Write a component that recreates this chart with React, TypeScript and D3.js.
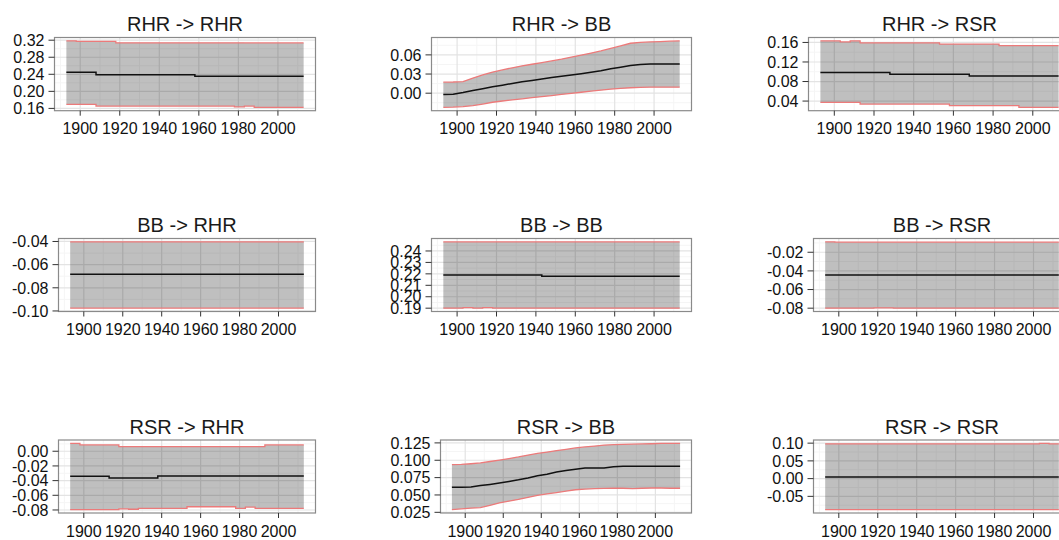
import * as d3 from "d3";
import React from "react";

const years = [1893, 1898, 1903, 1908, 1913, 1918, 1923, 1928, 1933, 1938, 1943, 1948, 1953, 1958, 1963, 1968, 1973, 1978, 1983, 1988, 1993, 1998, 2003, 2008, 2013];

const titles = ["RHR -> RHR", "RHR -> BB", "RHR -> RSR", "BB -> RHR", "BB -> BB", "BB -> RSR", "RSR -> RHR", "RSR -> BB", "RSR -> RSR"];

// RHR -> RHR
const rhrRhrMean = [0.2447, 0.2447, 0.2447, 0.239, 0.239, 0.239, 0.239, 0.239, 0.239, 0.239, 0.239, 0.239, 0.239, 0.2353, 0.2353, 0.2353, 0.2353, 0.2353, 0.2353, 0.2353, 0.2353, 0.2353, 0.2353, 0.2353, 0.2353];
const rhrRhrUpper = [0.3185, 0.317, 0.317, 0.317, 0.317, 0.3137, 0.3137, 0.3137, 0.3137, 0.3137, 0.3137, 0.3137, 0.3137, 0.3137, 0.3137, 0.3137, 0.3137, 0.3137, 0.3135, 0.3135, 0.3135, 0.3135, 0.3135, 0.3135, 0.3135];
const rhrRhrLower = [0.1694, 0.1694, 0.1694, 0.1654, 0.1654, 0.1654, 0.1654, 0.1654, 0.1654, 0.1654, 0.1654, 0.1654, 0.1654, 0.1654, 0.1654, 0.1654, 0.1654, 0.1635, 0.1654, 0.1624, 0.1624, 0.1624, 0.1624, 0.1624, 0.1624];

// RHR -> BB
const rhrBbMean = [-0.0022, -0.0015, 0.001, 0.0042, 0.007, 0.01, 0.0125, 0.0153, 0.0178, 0.02, 0.0222, 0.0245, 0.0265, 0.0285, 0.0305, 0.0328, 0.0352, 0.0383, 0.0408, 0.0432, 0.0448, 0.0456, 0.0458, 0.0458, 0.0458];
const rhrBbUpper = [0.0173, 0.0175, 0.0182, 0.0237, 0.0285, 0.033, 0.0365, 0.0398, 0.0428, 0.0453, 0.0478, 0.0505, 0.0533, 0.0566, 0.0597, 0.0628, 0.0662, 0.07, 0.074, 0.0782, 0.0797, 0.0803, 0.0808, 0.0815, 0.082];
const rhrBbLower = [-0.0222, -0.0218, -0.021, -0.0195, -0.017, -0.0142, -0.0122, -0.0105, -0.0088, -0.007, -0.0055, -0.0038, -0.002, -0.0002, 0.0015, 0.0032, 0.0048, 0.0063, 0.0075, 0.0085, 0.0092, 0.0094, 0.0094, 0.0094, 0.0094];

// RHR -> RSR
const rhrRsrMean = [0.0987, 0.0987, 0.0987, 0.0987, 0.0987, 0.0987, 0.0987, 0.0947, 0.0947, 0.0947, 0.0947, 0.0947, 0.0947, 0.0947, 0.0947, 0.0914, 0.0914, 0.0914, 0.0914, 0.0914, 0.0914, 0.0914, 0.0914, 0.0914, 0.0914];
const rhrRsrUpper = [0.1633, 0.1633, 0.161, 0.1633, 0.1593, 0.1593, 0.1593, 0.1593, 0.1593, 0.1593, 0.1593, 0.1593, 0.1566, 0.1566, 0.1566, 0.1566, 0.1566, 0.1566, 0.1533, 0.1533, 0.1533, 0.1533, 0.1533, 0.1533, 0.1533];
const rhrRsrLower = [0.0372, 0.0372, 0.0372, 0.0372, 0.0338, 0.0338, 0.0338, 0.0338, 0.0338, 0.0338, 0.0338, 0.0338, 0.0338, 0.0305, 0.0305, 0.0305, 0.0305, 0.0305, 0.0305, 0.0305, 0.0271, 0.0271, 0.0271, 0.0271, 0.0271];

// BB -> RHR
const bbRhrMean = [-0.0682, -0.0682, -0.0682, -0.0682, -0.0682, -0.0682, -0.0682, -0.0682, -0.0682, -0.0682, -0.0682, -0.0682, -0.0682, -0.0682, -0.0682, -0.0682, -0.0682, -0.0682, -0.0682, -0.0682, -0.0682, -0.0682, -0.0682, -0.0682, -0.0682];
const bbRhrUpper = [-0.0403, -0.0403, -0.0403, -0.0403, -0.0403, -0.0403, -0.0403, -0.0403, -0.0403, -0.0403, -0.0403, -0.0403, -0.0403, -0.0403, -0.0403, -0.0403, -0.0403, -0.0403, -0.0403, -0.0403, -0.0403, -0.0403, -0.0403, -0.0403, -0.0403];
const bbRhrLower = [-0.0976, -0.0976, -0.0976, -0.0976, -0.0976, -0.0976, -0.0976, -0.0976, -0.0976, -0.0976, -0.0976, -0.0976, -0.0976, -0.0976, -0.0976, -0.0976, -0.0976, -0.0976, -0.0976, -0.0976, -0.0976, -0.0976, -0.0976, -0.0976, -0.0976];

// BB -> BB
const bbBbMean = [0.219, 0.219, 0.219, 0.219, 0.219, 0.219, 0.219, 0.219, 0.219, 0.219, 0.2178, 0.2178, 0.2178, 0.2178, 0.2178, 0.2178, 0.2178, 0.2178, 0.2178, 0.2178, 0.2178, 0.2178, 0.2178, 0.2178, 0.2178];
const bbBbUpper = [0.248, 0.248, 0.248, 0.248, 0.248, 0.248, 0.248, 0.248, 0.248, 0.248, 0.248, 0.248, 0.248, 0.248, 0.248, 0.248, 0.248, 0.248, 0.248, 0.248, 0.248, 0.248, 0.248, 0.248, 0.248];
const bbBbLower = [0.19, 0.19, 0.1905, 0.19, 0.1905, 0.19, 0.19, 0.19, 0.19, 0.19, 0.19, 0.19, 0.19, 0.19, 0.19, 0.19, 0.19, 0.19, 0.19, 0.19, 0.19, 0.19, 0.19, 0.19, 0.19];

// BB -> RSR
const bbRsrMean = [-0.0443, -0.0443, -0.0443, -0.0443, -0.0443, -0.0443, -0.0443, -0.0443, -0.0443, -0.0443, -0.0443, -0.0443, -0.0443, -0.0443, -0.0443, -0.0443, -0.0443, -0.0443, -0.0443, -0.0443, -0.0443, -0.0443, -0.0443, -0.0443, -0.0443];
const bbRsrUpper = [-0.0088, -0.0092, -0.0092, -0.0092, -0.0092, -0.0092, -0.0092, -0.0092, -0.0092, -0.0092, -0.0092, -0.0092, -0.0092, -0.0092, -0.0092, -0.0092, -0.0092, -0.0092, -0.0092, -0.0092, -0.0092, -0.0092, -0.0092, -0.0092, -0.0092];
const bbRsrLower = [-0.08, -0.08, -0.08, -0.08, -0.08, -0.0797, -0.0797, -0.08, -0.08, -0.08, -0.08, -0.08, -0.08, -0.08, -0.08, -0.08, -0.08, -0.08, -0.08, -0.08, -0.08, -0.08, -0.08, -0.08, -0.08];

// RSR -> RHR
const rsrRhrMean = [-0.0342, -0.0342, -0.0342, -0.0342, -0.0365, -0.0365, -0.0365, -0.0365, -0.0365, -0.0337, -0.0337, -0.0337, -0.0337, -0.0337, -0.0337, -0.0337, -0.0337, -0.0337, -0.0337, -0.0337, -0.0337, -0.0337, -0.0337, -0.0337, -0.0337];
const rsrRhrUpper = [0.0108, 0.0086, 0.0086, 0.0086, 0.0086, 0.0063, 0.0063, 0.0063, 0.0063, 0.0063, 0.0063, 0.0063, 0.0063, 0.0063, 0.0063, 0.0063, 0.0063, 0.0063, 0.0063, 0.0063, 0.0086, 0.0086, 0.0086, 0.0086, 0.0086];
const rsrRhrLower = [-0.0796, -0.0796, -0.0796, -0.0796, -0.0796, -0.0785, -0.079, -0.0778, -0.0778, -0.0778, -0.0778, -0.0778, -0.0756, -0.0756, -0.0756, -0.0756, -0.0756, -0.0778, -0.076, -0.0778, -0.0778, -0.0778, -0.0778, -0.0778, -0.0778];

// RSR -> BB
const rsrBbMean = [0.061, 0.061, 0.0615, 0.0635, 0.0652, 0.0672, 0.0695, 0.0718, 0.0745, 0.0778, 0.08, 0.0832, 0.0852, 0.0872, 0.0889, 0.0889, 0.0889, 0.0905, 0.0913, 0.0913, 0.0913, 0.0913, 0.0913, 0.0913, 0.0913];
const rsrBbUpper = [0.0937, 0.094, 0.095, 0.0962, 0.0982, 0.1002, 0.1025, 0.1048, 0.1075, 0.1098, 0.1118, 0.114, 0.1158, 0.1178, 0.1192, 0.1205, 0.1218, 0.1225, 0.123, 0.1232, 0.1235, 0.1238, 0.1244, 0.1244, 0.1244];
const rsrBbLower = [0.0288, 0.03, 0.031, 0.0318, 0.035, 0.0385, 0.041, 0.0435, 0.0465, 0.0495, 0.0515, 0.0534, 0.0555, 0.0575, 0.0585, 0.059, 0.0595, 0.0597, 0.0597, 0.059, 0.0597, 0.06, 0.06, 0.0597, 0.0597];

// RSR -> RSR
const rsrRsrMean = [0.0047, 0.0047, 0.0047, 0.0047, 0.0047, 0.0047, 0.0047, 0.0047, 0.0047, 0.0047, 0.0047, 0.0047, 0.0047, 0.0047, 0.0047, 0.0047, 0.0047, 0.0047, 0.0047, 0.0047, 0.0047, 0.0047, 0.0047, 0.0047, 0.0047];
const rsrRsrUpper = [0.098, 0.098, 0.098, 0.098, 0.098, 0.098, 0.098, 0.098, 0.098, 0.098, 0.098, 0.098, 0.098, 0.098, 0.098, 0.098, 0.098, 0.098, 0.098, 0.098, 0.098, 0.098, 0.0995, 0.098, 0.098];
const rsrRsrLower = [-0.0876, -0.0876, -0.0876, -0.0876, -0.0876, -0.0876, -0.0876, -0.0876, -0.0876, -0.0876, -0.0876, -0.0876, -0.0876, -0.0876, -0.0876, -0.0876, -0.0876, -0.0876, -0.0876, -0.0876, -0.0876, -0.0876, -0.0876, -0.0876, -0.0876];

// y tick labels per panel
const rhrRhrTicks = ["0.16", "0.20", "0.24", "0.28", "0.32"];
const rhrBbTicks = ["0.00", "0.03", "0.06"];
const rhrRsrTicks = ["0.04", "0.08", "0.12", "0.16"];
const bbRhrTicks = ["-0.10", "-0.08", "-0.06", "-0.04"];
const bbBbTicks = ["0.19", "0.20", "0.21", "0.22", "0.23", "0.24"];
const bbRsrTicks = ["-0.08", "-0.06", "-0.04", "-0.02"];
const rsrRhrTicks = ["-0.08", "-0.06", "-0.04", "-0.02", "0.00"];
const rsrBbTicks = ["0.025", "0.050", "0.075", "0.100", "0.125"];
const rsrRsrTicks = ["-0.05", "0.00", "0.05", "0.10"];

const xTicks = [1900, 1920, 1940, 1960, 1980, 2000];

// trending panels look like smooth ramps, the flat ones have sharp steps
const panels = [
  { title: titles[0], mean: rhrRhrMean, upper: rhrRhrUpper, lower: rhrRhrLower, ticks: rhrRhrTicks, stepped: true },
  { title: titles[1], mean: rhrBbMean, upper: rhrBbUpper, lower: rhrBbLower, ticks: rhrBbTicks, stepped: false },
  { title: titles[2], mean: rhrRsrMean, upper: rhrRsrUpper, lower: rhrRsrLower, ticks: rhrRsrTicks, stepped: true },
  { title: titles[3], mean: bbRhrMean, upper: bbRhrUpper, lower: bbRhrLower, ticks: bbRhrTicks, stepped: true },
  { title: titles[4], mean: bbBbMean, upper: bbBbUpper, lower: bbBbLower, ticks: bbBbTicks, stepped: true },
  { title: titles[5], mean: bbRsrMean, upper: bbRsrUpper, lower: bbRsrLower, ticks: bbRsrTicks, stepped: true },
  { title: titles[6], mean: rsrRhrMean, upper: rsrRhrUpper, lower: rsrRhrLower, ticks: rsrRhrTicks, stepped: true },
  { title: titles[7], mean: rsrBbMean, upper: rsrBbUpper, lower: rsrBbLower, ticks: rsrBbTicks, stepped: false },
  { title: titles[8], mean: rsrRsrMean, upper: rsrRsrUpper, lower: rsrRsrLower, ticks: rsrRsrTicks, stepped: true },
];

// panel boxes (layout)
const rowTop = [37.5, 238.5, 440];
const rowBottom = [110.7, 311.5, 513];
const colRight = [315.5, 691.5, 1070.5];
const panelLeft = [54.5, 431.5, 808.5, 58.5, 431.5, 813.5, 58.5, 440.5, 813.5];

const FONT = "'Liberation Sans', Arial, sans-serif";

type PanelData = { title: string; mean: number[]; upper: number[]; lower: number[]; ticks: string[]; stepped: boolean };

const Panel = ({ p, idx }: { p: PanelData; idx: number }) => {
  const row = Math.floor(idx / 3);
  const col = idx % 3;
  const left = panelLeft[idx];
  const right = colRight[col];
  const top = rowTop[row];
  const bottom = rowBottom[row];

  const [x0, x1] = d3.extent(years) as [number, number];
  const xPad = (x1 - x0) * 0.05;
  const x = d3.scaleLinear().domain([x0 - xPad, x1 + xPad]).range([left, right]);

  const lo = d3.min(p.lower) as number;
  const hi = d3.max(p.upper) as number;
  const yPad = (hi - lo) * 0.05;
  const y = d3.scaleLinear().domain([lo - yPad, hi + yPad]).range([bottom, top]);

  const yMajor = p.ticks.map((t) => +t);
  const step = yMajor[1] - yMajor[0];
  const yMinor = [yMajor[0] - step / 2, ...yMajor.map((v) => v + step / 2)].filter(
    (v) => v >= y.domain()[0] && v <= y.domain()[1]
  );
  const xMinor = xTicks.map((v) => v - 10).concat([2010]).filter((v) => v >= x.domain()[0] && v <= x.domain()[1]);

  const curve = p.stepped ? d3.curveStepAfter : d3.curveLinear;
  const ribbon = d3
    .area<number>()
    .x((_, i) => x(years[i]))
    .y0((_, i) => y(p.lower[i]))
    .y1((d) => y(d))
    .curve(curve);
  const line = d3
    .line<number>()
    .x((_, i) => x(years[i]))
    .y((d) => y(d))
    .curve(curve);

  const clipId = `clip-${idx}`;

  return (
    <g>
      <defs>
        <clipPath id={clipId}>
          <rect x={left} y={top} width={right - left} height={bottom - top} />
        </clipPath>
      </defs>
      <rect x={left} y={top} width={right - left} height={bottom - top} fill="#ffffff" />
      <g clipPath={`url(#${clipId})`}>
        {yMinor.map((v) => (
          <line key={"ym" + v} x1={left} x2={right} y1={y(v)} y2={y(v)} stroke="#f5f5f5" strokeWidth={1} />
        ))}
        {xMinor.map((v) => (
          <line key={"xm" + v} x1={x(v)} x2={x(v)} y1={top} y2={bottom} stroke="#f5f5f5" strokeWidth={1} />
        ))}
        {yMajor.map((v) => (
          <line key={"yM" + v} x1={left} x2={right} y1={y(v)} y2={y(v)} stroke="#e3e3e3" strokeWidth={1.2} />
        ))}
        {xTicks.map((v) => (
          <line key={"xM" + v} x1={x(v)} x2={x(v)} y1={top} y2={bottom} stroke="#e3e3e3" strokeWidth={1.2} />
        ))}
        <path d={ribbon(p.upper) || ""} fill="#000000" fillOpacity={0.25} />
        <path d={line(p.upper) || ""} fill="none" stroke="#ec7a7a" strokeWidth={1.3} />
        <path d={line(p.lower) || ""} fill="none" stroke="#ec7a7a" strokeWidth={1.3} />
        <path d={line(p.mean) || ""} fill="none" stroke="#111111" strokeWidth={1.5} />
      </g>
      <rect x={left} y={top} width={right - left} height={bottom - top} fill="none" stroke="#8a8a8a" strokeWidth={1.2} />
      {yMajor.map((v, i) => (
        <g key={"yt" + i}>
          <line x1={left - 6} x2={left} y1={y(v)} y2={y(v)} stroke="#333333" strokeWidth={1} />
          <text x={left - 10} y={y(v)} dy="0.36em" textAnchor="end" fontSize={16} fill="#111111" fontFamily={FONT}>
            {p.ticks[i]}
          </text>
        </g>
      ))}
      {xTicks.map((v) => (
        <g key={"xt" + v}>
          <line x1={x(v)} x2={x(v)} y1={bottom} y2={bottom + 5} stroke="#333333" strokeWidth={1} />
          <text x={x(v)} y={bottom + 23.5} textAnchor="middle" fontSize={16} fill="#111111" fontFamily={FONT}>
            {v}
          </text>
        </g>
      ))}
      <text x={(left + right) / 2} y={top - 6.5} textAnchor="middle" fontSize={20} fill="#1a1a1a" fontFamily={FONT}>
        {p.title}
      </text>
    </g>
  );
};

const App = () => {
  return (
    <svg
      width={1059}
      height={540}
      style={{ position: "absolute", left: 0, top: 0, background: "#ffffff" }}
    >
      <rect x={0} y={0} width={1059} height={540} fill="#ffffff" />
      {panels.map((p, i) => (
        <Panel key={i} p={p} idx={i} />
      ))}
    </svg>
  );
};

export default App;
